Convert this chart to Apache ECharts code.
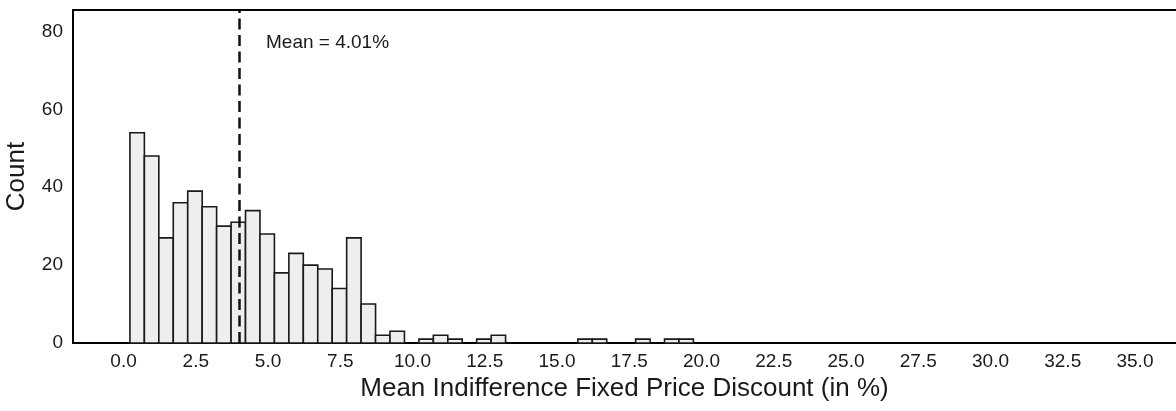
<!DOCTYPE html>
<html>
<head>
<meta charset="utf-8">
<script src="https://cdn.jsdelivr.net/npm/echarts@6/dist/echarts.min.js"></script>
<style>
  html, body { margin: 0; padding: 0; background: #ffffff; }
  #chart { width: 1176px; height: 411px; }
</style>
</head>
<body>
<div id="chart"></div>
<script>
// Histogram of per-respondent mean indifference discounts (bins of 0.5 %)
const binStart = 0.22;
const binWidth = 0.5;
const binCounts = [
  54, 48, 27, 36, 39, 35, 30, 31, 34, 28,
  18, 23, 20, 19, 14, 27, 10, 2, 3, 0,
  1, 2, 1, 0, 1, 2, 0, 0, 0, 0,
  0, 1, 1, 0, 0, 1, 0, 1, 1
];
const meanValue = 4.01;
const meanLabel = 'Mean = 4.01%';
const xTicks = [0, 2.5, 5, 7.5, 10, 12.5, 15, 17.5, 20, 22.5, 25, 27.5, 30, 32.5, 35];
const yTicks = [0, 20, 40, 60, 80];
const xTitle = 'Mean Indifference Fixed Price Discount (in %)';
const yTitle = 'Count';

const FONT = '"Liberation Sans", Arial, Helvetica, sans-serif';

// [left edge, right edge, count] per bin
const histData = binCounts.map((c, i) => [
  binStart + i * binWidth,
  binStart + (i + 1) * binWidth,
  c
]);

const chart = echarts.init(document.getElementById('chart'), null, { renderer: 'canvas' });

const option = {
  animation: false,
  backgroundColor: '#ffffff',
  grid: { left: 73, right: 0, top: 10, bottom: 68, outerBoundsMode: 'none', containLabel: false },
  xAxis: [
    {
      type: 'value',
      min: -1.75,
      max: 36.42,
      position: 'bottom',
      splitLine: { show: false },
      axisLine: { show: true, onZero: false, lineStyle: { color: '#000', width: 2 } },
      axisTick: { show: false },
      axisLabel: {
        customValues: xTicks,
        formatter: v => v.toFixed(1),
        color: '#1a1a1a', fontFamily: FONT, fontSize: 19, margin: 9
      },
      name: xTitle,
      nameLocation: 'middle',
      nameGap: 33,
      nameTextStyle: { color: '#1a1a1a', fontFamily: FONT, fontSize: 26 }
    },
    {
      type: 'value',
      min: -1.75,
      max: 36.42,
      position: 'top',
      splitLine: { show: false },
      axisLine: { show: true, onZero: false, lineStyle: { color: '#000', width: 2 } },
      axisTick: { show: false },
      axisLabel: { show: false }
    }
  ],
  yAxis: {
    type: 'value',
    min: 0,
    max: 85.5,
    splitLine: { show: false },
    axisLine: { show: true, onZero: false, lineStyle: { color: '#000', width: 2 } },
    axisTick: { show: false },
    axisLabel: {
      customValues: yTicks,
      color: '#1a1a1a', fontFamily: FONT, fontSize: 19, margin: 10
    },
    name: yTitle,
    nameLocation: 'middle',
    nameGap: 43,
    nameTextStyle: { color: '#1a1a1a', fontFamily: FONT, fontSize: 26 }
  },
  series: [
    {
      type: 'custom',
      xAxisIndex: 0,
      yAxisIndex: 0,
      data: histData,
      encode: { x: [0, 1], y: 2 },
      renderItem: function (params, api) {
        const count = api.value(2);
        if (!count) return null;
        const p0 = api.coord([api.value(0), count]);
        const p1 = api.coord([api.value(1), 0]);
        return {
          type: 'rect',
          shape: { x: p0[0], y: p0[1], width: p1[0] - p0[0], height: p1[1] - p0[1] },
          style: { fill: '#eeeeee', stroke: '#1a1a1a', lineWidth: 1.6 }
        };
      },
      markLine: {
        silent: true,
        symbol: ['none', 'none'],
        label: { show: false },
        lineStyle: { color: '#111', width: 2.5, type: [11, 5.5] },
        data: [{ xAxis: meanValue }]
      },
      z: 2
    }
  ],
  graphic: [
    {
      type: 'text',
      left: 266,
      top: 33,
      style: { text: meanLabel, fill: '#1a1a1a', font: '19px ' + FONT }
    }
  ]
};

chart.setOption(option);
</script>
</body>
</html>
